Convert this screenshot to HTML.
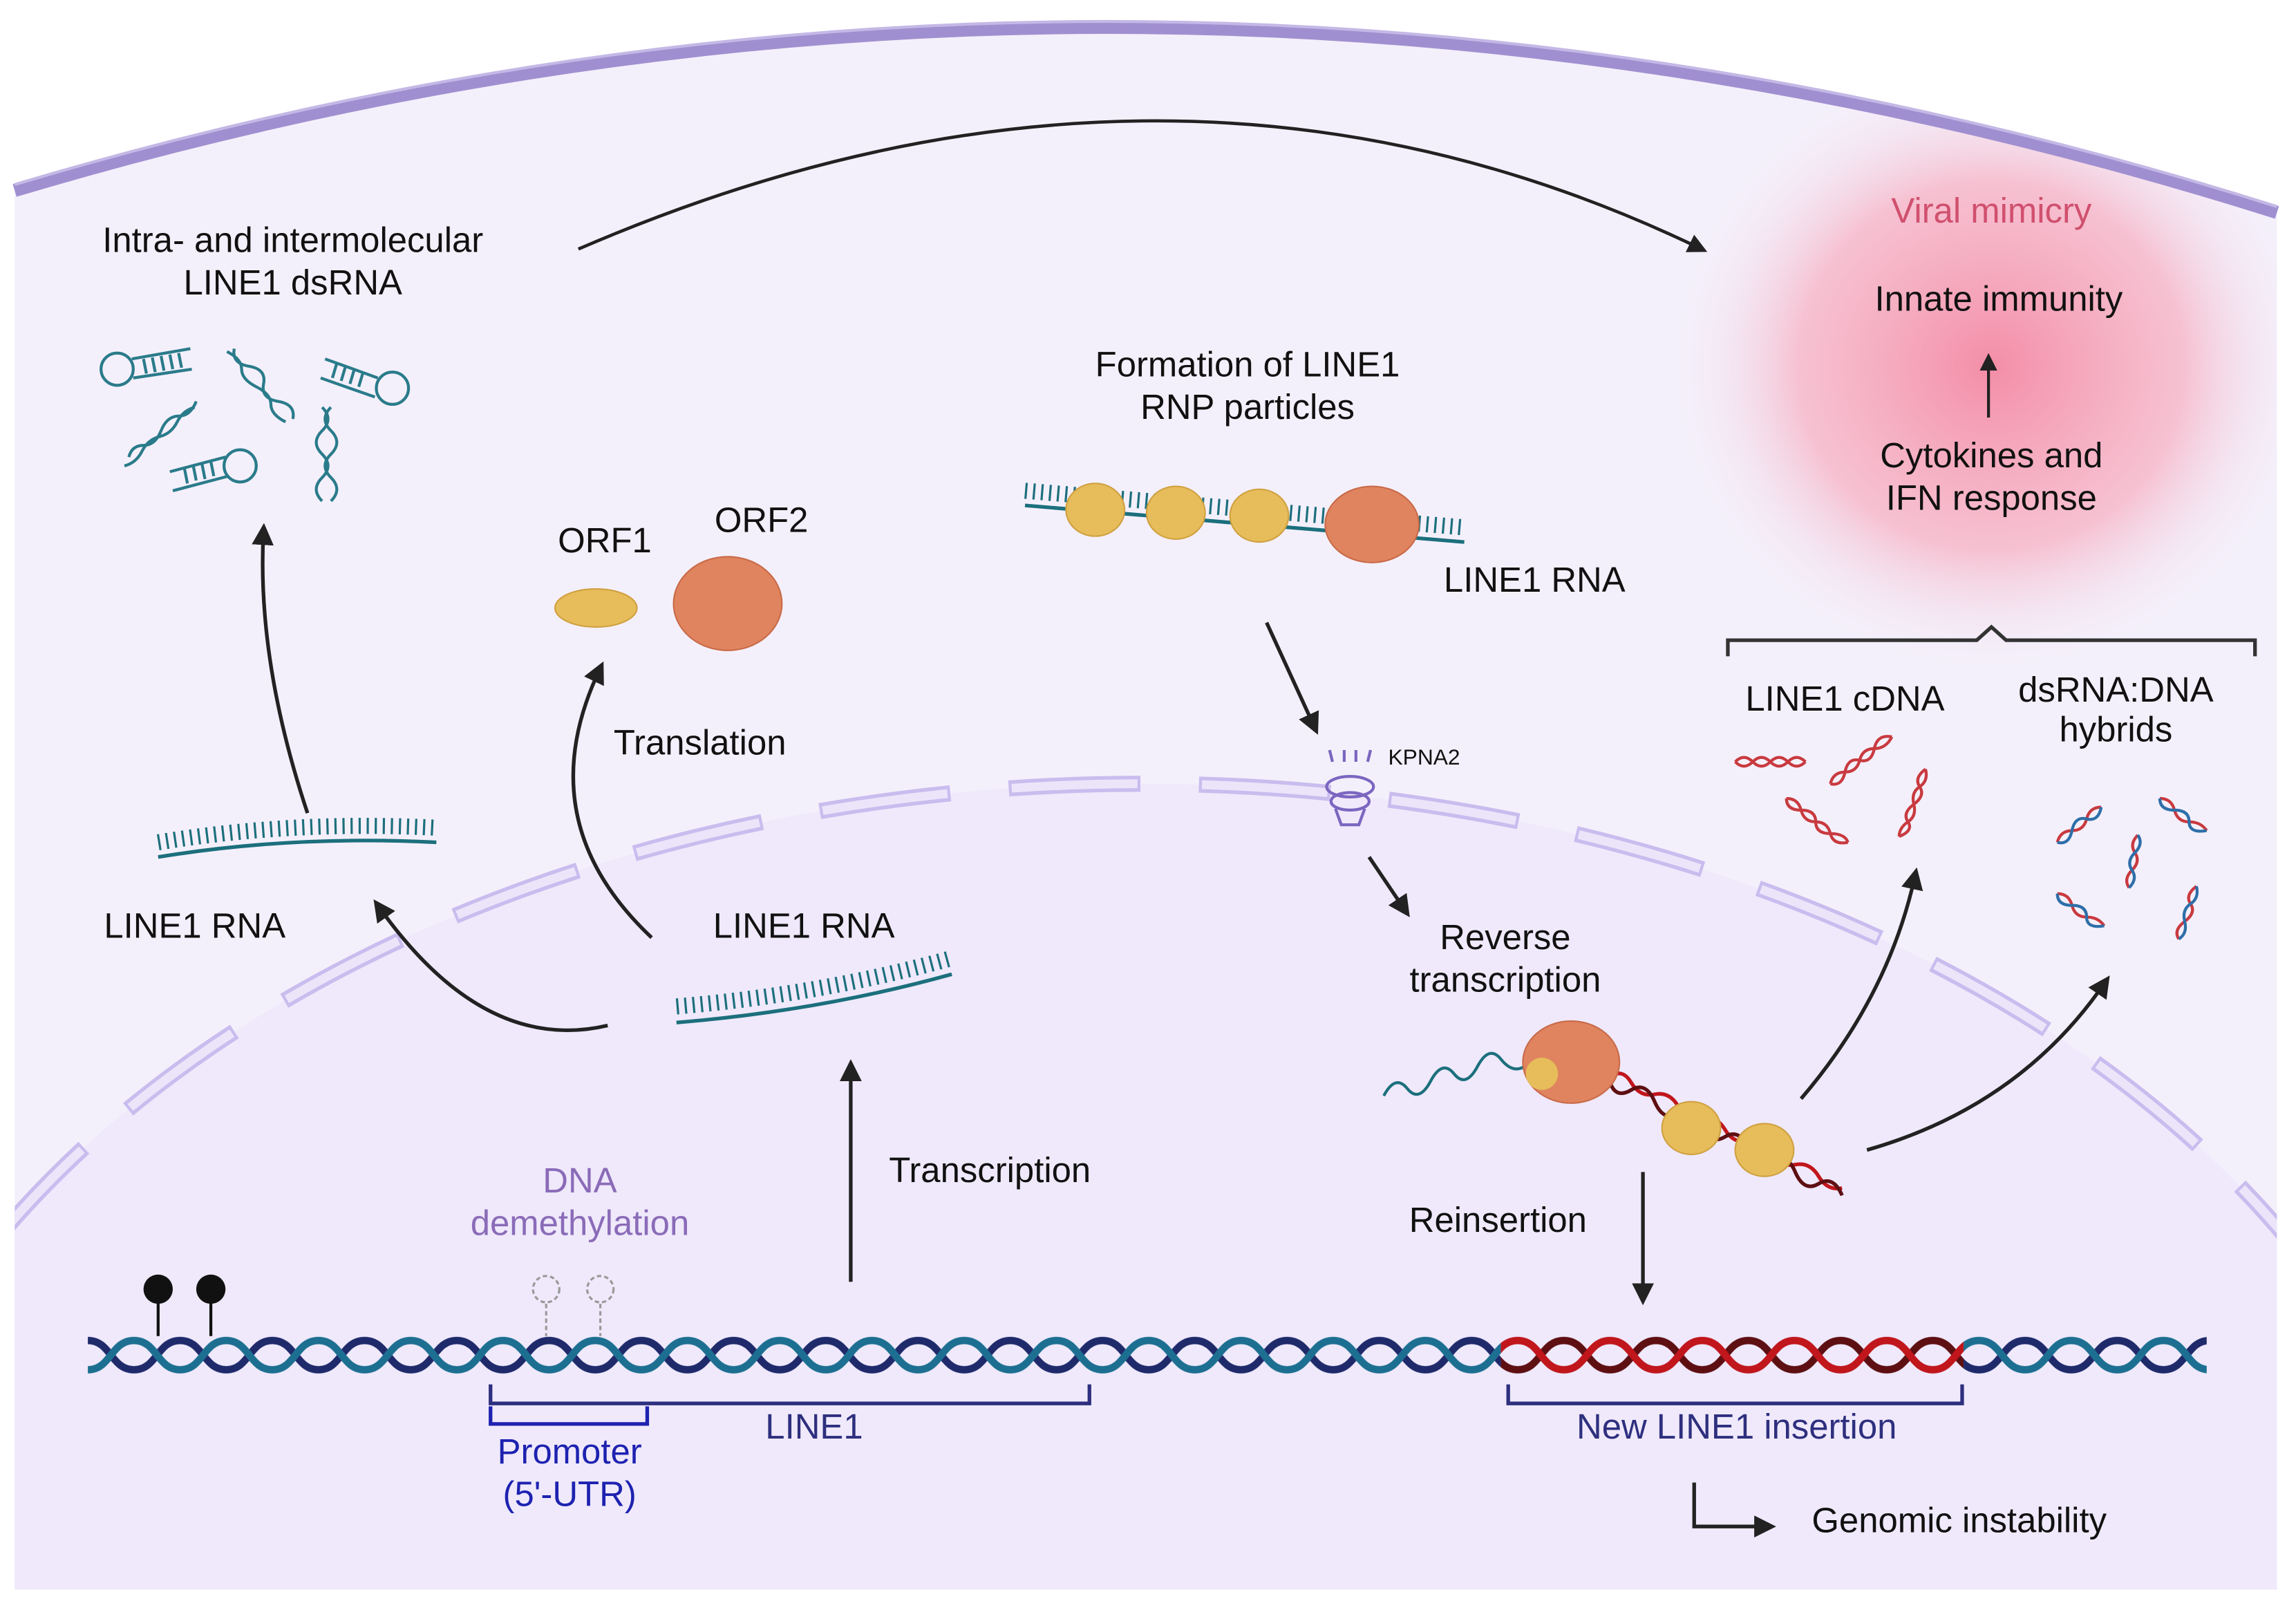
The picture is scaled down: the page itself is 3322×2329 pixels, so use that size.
<!DOCTYPE html>
<html><head><meta charset="utf-8"><style>
html,body{margin:0;padding:0;background:#fff;width:3322px;height:2329px;overflow:hidden;}
svg{display:block;}
text{font-family:"Liberation Sans",sans-serif;font-size:24px;fill:#111;text-anchor:middle;}
</style></head><body>
<svg width="3322" height="2329" viewBox="0 0 1568 1099" preserveAspectRatio="none" xmlns="http://www.w3.org/2000/svg">
<defs>
<marker id="ah" markerWidth="6" markerHeight="6" refX="4" refY="3" orient="auto" markerUnits="strokeWidth">
<path d="M0,0 L6,3 L0,6 z" fill="#222"/></marker>
<radialGradient id="glow" cx="0.5" cy="0.5" r="0.5">
<stop offset="0" stop-color="#f47c98" stop-opacity="0.85"/>
<stop offset="0.6" stop-color="#f7a2b6" stop-opacity="0.6"/>
<stop offset="1" stop-color="#f4eefa" stop-opacity="0"/></radialGradient>
<pattern id="dnaB" x="60" y="905" width="63" height="40" patternUnits="userSpaceOnUse">
<path d="M0,10 C15.75,10 15.75,30 31.5,30 C47.25,30 47.25,10 63,10" fill="none" stroke="#1f2a6b" stroke-width="5"/>
<path d="M0,30 C15.75,30 15.75,10 31.5,10 C47.25,10 47.25,30 63,30" fill="none" stroke="#1d6f91" stroke-width="5"/>
</pattern>
<pattern id="dnaR" x="60" y="905" width="63" height="40" patternUnits="userSpaceOnUse">
<path d="M0,10 C15.75,10 15.75,30 31.5,30 C47.25,30 47.25,10 63,10" fill="none" stroke="#5e0f12" stroke-width="5"/>
<path d="M0,30 C15.75,30 15.75,10 31.5,10 C47.25,10 47.25,30 63,30" fill="none" stroke="#c0161c" stroke-width="5"/>
</pattern>
<clipPath id="cell"><path d="M10,130 Q780,-100 1555,145 L1555,1085 L10,1085 z"/></clipPath>
</defs>
<rect width="1568" height="1099" fill="#fff"/>
<path d="M10,130 Q780,-100 1555,145 L1555,1085 L10,1085 z" fill="#f4f0fb"/>
<g clip-path="url(#cell)">
<ellipse cx="780" cy="1150" rx="900" ry="615" fill="#efe9fb"/>
<ellipse cx="780" cy="1150" rx="900" ry="615" fill="none" stroke="#c9bcee" stroke-width="11" stroke-dasharray="90 40"/>
<ellipse cx="780" cy="1150" rx="900" ry="615" fill="none" stroke="#ece5fa" stroke-width="6" stroke-dasharray="86 44" stroke-dashoffset="-2"/>
<ellipse cx="1360" cy="250" rx="220" ry="210" fill="url(#glow)"/>
</g>
<path d="M10,130 Q780,-100 1555,145" fill="none" stroke="#a08fd0" stroke-width="9"/>
<path d="M10,126 Q780,-104 1555,141" fill="none" stroke="#c4b8e6" stroke-width="2"/>

<rect x="60" y="905" width="965" height="40" fill="url(#dnaB)"/>
<rect x="1025" y="905" width="316" height="40" fill="url(#dnaR)"/>
<rect x="1341" y="905" width="166" height="40" fill="url(#dnaB)"/>
<g stroke="#111" stroke-width="2"><line x1="108" y1="880" x2="108" y2="912"/><line x1="144" y1="880" x2="144" y2="912"/></g>
<circle cx="108" cy="880" r="10" fill="#111"/><circle cx="144" cy="880" r="10" fill="#111"/>
<g stroke="#999" stroke-width="1.5" fill="none" stroke-dasharray="3 2"><line x1="373" y1="890" x2="373" y2="912"/><line x1="410" y1="890" x2="410" y2="912"/><circle cx="373" cy="880" r="9"/><circle cx="410" cy="880" r="9"/></g>

<g fill="none" stroke="#2e2f7e" stroke-width="2.5">
<path d="M335,945 V958 H744 V945"/>
<path d="M1030,945 V958 H1340 V945"/>
</g>
<path d="M335,960 V972 H442 V960" fill="none" stroke="#1d22b0" stroke-width="2.5"/>
<path d="M1157,1012 V1042 H1208" fill="none" stroke="#222" stroke-width="2.5" marker-end="url(#ah)"/>
<path d="M1180,448 V437 H1350 L1360,428 L1370,437 H1540 V448" fill="none" stroke="#333" stroke-width="2.5"/>

<g fill="none" stroke="#1c6f7c">
<path d="M108,585 Q200,570 298,575" stroke-width="2.5"/>
<path d="M108,580 Q200,565 298,570" stroke-width="11" stroke-dasharray="1.5 4" transform="translate(0,-5)"/>
<path d="M462,698 Q560,690 650,665" stroke-width="2.5"/>
<path d="M462,692 Q560,684 650,659" stroke-width="11" stroke-dasharray="1.5 4" transform="translate(0,-5)"/>
<path d="M700,345 L1000,370" stroke-width="2.5"/>
<path d="M700,340 L1000,365" stroke-width="11" stroke-dasharray="1.5 4" transform="translate(0,-5)"/>
<path d="M945,748 q8,-15 16,-5 t16,-5 t16,-5 t16,-5 t16,-5 t16,5" stroke-width="2"/>
</g>
<g fill="none" stroke="#2a7b8a" stroke-width="2">
<circle cx="80" cy="252" r="11"/><path d="M90,245 L130,238 M91,258 L131,252 M98,245 l2,10 M104,244 l2,10 M110,243 l2,10 M116,242 l2,10 M122,241 l2,10"/>
<circle cx="268" cy="265" r="11"/><path d="M258,258 L222,245 M256,271 L219,258 M230,248 l-3,10 M236,250 l-3,10 M242,252 l-3,10 M248,254 l-3,10"/>
<circle cx="164" cy="318" r="11"/><path d="M154,312 L116,322 M156,325 L118,335 M126,320 l2,10 M132,318 l2,10 M138,317 l2,10 M144,315 l2,10"/>
<path d="M155,240 q10,5 10,12 t10,12 t10,12 t10,12 M160,238 q-2,10 10,12 t10,12 t10,12 t10,12"/>
<path d="M85,318 q8,-2 12,-10 t12,-10 t12,-10 t12,-10 M88,312 q2,-8 10,-8 t12,-10 t12,-10 t12,-10"/>
<path d="M220,278 q8,8 0,16 t0,16 t0,16 t0,16 M226,278 q-8,8 0,16 t0,16 t0,16 t0,16"/>
</g>
<g fill="none" stroke="#c83a3f" stroke-width="2">
<path d="M1185,520 q6,-6 12,0 t12,0 t12,0 t12,0 M1185,520 q6,6 12,0 t12,0 t12,0 t12,0"/>
<path d="M1250,535 q2,-8 10,-8 t10,-8 t10,-8 t12,-8 M1250,535 q8,2 10,-8 t10,-8 t10,-8 t12,-8"/>
<path d="M1220,545 q8,0 10,8 t10,8 t10,8 t12,6 M1220,545 q0,8 10,8 t10,8 t10,8 t12,6"/>
<path d="M1315,525 q-8,6 -4,12 t-4,12 t-4,12 t-6,10 M1315,525 q2,8 -4,12 t-4,12 t-4,12 t-6,10"/>
</g>
<g fill="none" stroke-width="2">
<g stroke="#c83a3f"><path d="M1405,575 q2,-8 10,-8 t10,-8 t10,-8 M1475,545 q8,0 10,8 t10,8 t12,6 M1460,570 q-6,6 -2,12 t-2,12 t-2,12 M1405,610 q8,0 10,8 t10,8 t12,6 M1500,605 q-8,6 -4,12 t-4,12 t-4,12"/></g>
<g stroke="#2e6fa8"><path d="M1405,575 q8,2 10,-8 t10,-8 t10,-8 M1475,545 q0,8 10,8 t10,8 t12,6 M1460,570 q4,6 -2,12 t-2,12 t-2,12 M1405,610 q0,8 10,8 t10,8 t12,6 M1500,605 q2,8 -4,12 t-4,12 t-4,12"/></g>
</g>
<path d="M1100,735 q8,-6 14,4 t16,8 t16,8 t16,8 t16,8 t16,8 t16,8 t16,8 t16,8 t16,8" fill="none" stroke="#c0161c" stroke-width="2.5"/>
<path d="M1100,740 q4,10 14,4 t16,8 t16,8 t16,8 t16,8 t16,8 t16,8 t16,8 t16,8 t16,8" fill="none" stroke="#5e0f12" stroke-width="2.5"/>

<g fill="#e6bd5a" stroke="#d0a040" stroke-width="1">
<ellipse cx="407" cy="415" rx="28" ry="13"/>
<ellipse cx="748" cy="348" rx="20" ry="18"/><ellipse cx="803" cy="350" rx="20" ry="18"/><ellipse cx="860" cy="352" rx="20" ry="18"/>
<ellipse cx="1155" cy="770" rx="20" ry="18"/><ellipse cx="1205" cy="785" rx="20" ry="18"/>
</g>
<g fill="#e08460" stroke="#c86a48" stroke-width="1">
<ellipse cx="497" cy="412" rx="37" ry="32"/>
<ellipse cx="937" cy="358" rx="32" ry="26"/>
<ellipse cx="1073" cy="725" rx="33" ry="28"/>
</g>
<circle cx="1053" cy="733" r="11" fill="#e6bd5a"/>
<g fill="none" stroke="#7b66c0" stroke-width="2">
<ellipse cx="922" cy="537" rx="16" ry="7"/><ellipse cx="922" cy="547" rx="13" ry="6"/><path d="M912,552 L916,563 H928 L932,552 M910,520 l-2,-8 M918,520 v-8 M926,520 v-8 M934,520 l2,-8"/>
</g>

<g fill="none" stroke="#222" stroke-width="2.5" marker-end="url(#ah)">
<path d="M395,170 Q800,-5 1162,170" stroke-width="2.2"/>
<path d="M210,555 Q175,450 180,362"/>
<path d="M415,700 Q330,720 258,618"/>
<path d="M445,640 Q360,560 410,456"/>
<path d="M581,875 V728"/>
<path d="M865,425 L898,497"/>
<path d="M935,585 L960,622"/>
<path d="M1122,800 V886"/>
<path d="M1230,750 Q1290,680 1308,597"/>
<path d="M1275,785 Q1380,755 1438,670"/>
<path d="M1358,285 V245" stroke-width="2"/>
</g>

<text x="200" y="172">Intra- and intermolecular</text>
<text x="200" y="201">LINE1 dsRNA</text>
<text x="1360" y="152" style="fill:#d0506e">Viral mimicry</text>
<text x="1365" y="212">Innate immunity</text>
<text x="1360" y="319">Cytokines and</text>
<text x="1360" y="348">IFN response</text>
<text x="852" y="257">Formation of LINE1</text>
<text x="852" y="286">RNP particles</text>
<text x="413" y="377">ORF1</text>
<text x="520" y="363">ORF2</text>
<text x="1048" y="404">LINE1 RNA</text>
<text x="478" y="515">Translation</text>
<text x="948" y="522" style="font-size:15px;text-anchor:start">KPNA2</text>
<text x="1260" y="485">LINE1 cDNA</text>
<text x="1445" y="479">dsRNA:DNA</text>
<text x="1445" y="506">hybrids</text>
<text x="133" y="640">LINE1 RNA</text>
<text x="549" y="640">LINE1 RNA</text>
<text x="1028" y="648">Reverse</text>
<text x="1028" y="677">transcription</text>
<text x="676" y="807">Transcription</text>
<text x="396" y="814" style="fill:#8a6bb8">DNA</text>
<text x="396" y="843" style="fill:#8a6bb8">demethylation</text>
<text x="1023" y="841">Reinsertion</text>
<text x="556" y="982" style="fill:#2e2f7e">LINE1</text>
<text x="389" y="999" style="fill:#1d22b0">Promoter</text>
<text x="389" y="1028" style="fill:#1d22b0">(5'-UTR)</text>
<text x="1186" y="982" style="fill:#2e2f7e">New LINE1 insertion</text>
<text x="1338" y="1046">Genomic instability</text>
</svg>
</body></html>
